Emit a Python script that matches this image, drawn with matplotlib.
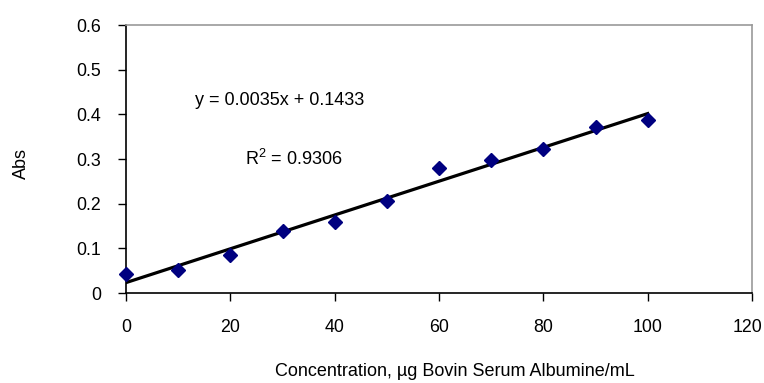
import numpy as np
import matplotlib
matplotlib.use("Agg")
import matplotlib.pyplot as plt
from matplotlib.transforms import ScaledTranslation

plt.rcParams['font.family'] = ['Liberation Sans', 'DejaVu Sans']
plt.rcParams['mathtext.fontset'] = 'custom'
plt.rcParams['mathtext.rm'] = 'Liberation Sans'
plt.rcParams['mathtext.it'] = 'Liberation Sans'

concentration = [0, 10, 20, 30, 40, 50, 60, 70, 80, 90, 100]
absorbance = [0.042, 0.051, 0.084, 0.139, 0.158, 0.205, 0.279, 0.298, 0.322, 0.372, 0.387]
x_ticks = [0, 20, 40, 60, 80, 100, 120]
y_ticks = [0, 0.1, 0.2, 0.3, 0.4, 0.5, 0.6]
y_ticklabels = ['0', '0.1', '0.2', '0.3', '0.4', '0.5', '0.6']
eq_text = "y = 0.0035x + 0.1433"
r2_text = "R$^{2}$ = 0.9306"

FS = 13
TFS = 12.8

fig = plt.figure(figsize=(7.64, 3.83), dpi=100)
ax = fig.add_axes([126/764, 90/383, 626/764, 268/383])

x = np.array(concentration)
y = np.array(absorbance)
slope, intercept = np.polyfit(x, y, 1)
xl = np.array([min(concentration), max(concentration)])
ax.plot(xl, slope * xl + intercept, color='black', lw=2.3, zorder=2)
ax.plot(x, y, linestyle='none', marker='D', markersize=7.5, color='#000080',
        markeredgecolor='#000080', zorder=3, clip_on=False)

ax.set_xlim(0, 120)
ax.set_ylim(0, 0.6)
ax.set_xticks(x_ticks)
ax.set_yticks(y_ticks)
ax.set_yticklabels(y_ticklabels)
ax.tick_params(direction='out', length=5.5, width=1, labelsize=TFS, color='black')
ax.tick_params(axis='y', pad=12.5)
ax.tick_params(axis='x', pad=13)

last = ax.get_xticklabels()[-1]
last.set_transform(last.get_transform() + ScaledTranslation(-4/100, 0, fig.dpi_scale_trans))

for s in ['top', 'right']:
    ax.spines[s].set_color('#999999')
    ax.spines[s].set_linewidth(1.2)
for s in ['left', 'bottom']:
    ax.spines[s].set_color('black')
    ax.spines[s].set_linewidth(1.2)

ax.text(0.110, 0.72, eq_text, transform=ax.transAxes, fontsize=FS, ha='left', va='center')
ax.text(0.19, 0.50, r2_text, transform=ax.transAxes, fontsize=FS, ha='left', va='center')

fig.text(455/764, 1 - 371/383, "Concentration, µg Bovin Serum Albumine/mL", fontsize=FS,
         ha='center', va='center')
fig.text(21/764, 1 - 164/383, "Abs", fontsize=FS, rotation=90, ha='center', va='center')

fig.savefig('out.png', dpi=100)
